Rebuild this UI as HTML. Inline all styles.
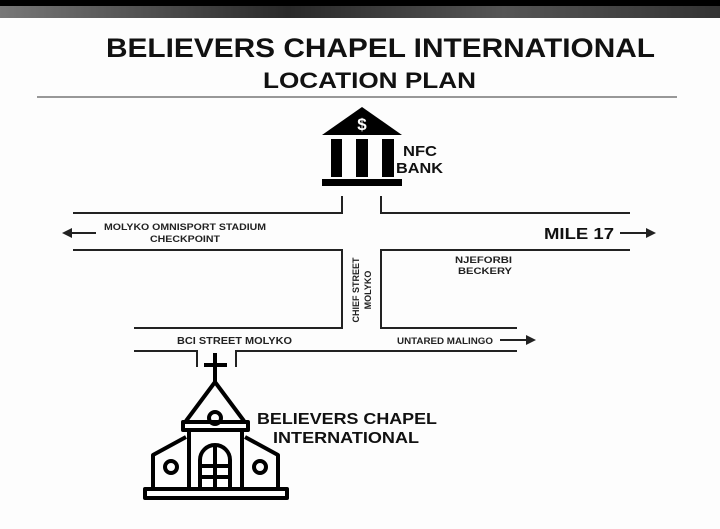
<!DOCTYPE html>
<html><head><style>
body{margin:0;width:720px;height:524px;overflow:hidden;background:#fdfdfd;font-family:"Liberation Sans",sans-serif}
</style></head><body>
<svg width="720" height="524" xmlns="http://www.w3.org/2000/svg" font-family="Liberation Sans, sans-serif" font-weight="bold">
<defs><linearGradient id="g" x1="0" x2="1"><stop offset="0" stop-color="#777"/><stop offset="0.4" stop-color="#2a2a2a"/><stop offset="0.7" stop-color="#555"/><stop offset="1" stop-color="#333"/></linearGradient></defs>
<rect width="720" height="6" fill="#000"/>
<rect y="6" width="720" height="12" fill="url(#g)"/>
<text x="106" y="57" font-size="27" fill="#111" textLength="549" lengthAdjust="spacingAndGlyphs">BELIEVERS CHAPEL INTERNATIONAL</text>
<text x="263" y="88" font-size="22" fill="#111" textLength="213" lengthAdjust="spacingAndGlyphs">LOCATION PLAN</text>
<line x1="37" y1="97" x2="677" y2="97" stroke="#777" stroke-width="1.5"/>
<!-- bank -->
<polygon points="322,135 402,135 362,107" fill="#000"/>
<text x="362" y="130" text-anchor="middle" font-size="17" fill="#fff">$</text>
<rect x="331" y="139" width="11" height="38" fill="#000"/>
<rect x="356" y="139" width="12" height="38" fill="#000"/>
<rect x="382" y="139" width="12" height="38" fill="#000"/>
<rect x="322" y="179" width="80" height="7" fill="#000"/>
<text x="403" y="156" font-size="15" fill="#111" textLength="34" lengthAdjust="spacingAndGlyphs">NFC</text>
<text x="396" y="173" font-size="15" fill="#111" textLength="47" lengthAdjust="spacingAndGlyphs">BANK</text>
<!-- roads -->
<g stroke="#222" stroke-width="2" fill="none">
<polyline points="342,196 342,213 73,213"/>
<polyline points="381,196 381,213 630,213"/>
<polyline points="73,250 342,250 342,328 134,328"/>
<polyline points="630,250 381,250 381,328 517,328"/>
<polyline points="134,351 197,351 197,367"/>
<polyline points="517,351 236,351 236,367"/>
<line x1="96" y1="233" x2="66" y2="233"/>
<line x1="620" y1="233" x2="650" y2="233"/>
<line x1="500" y1="340" x2="530" y2="340"/>
</g>
<polygon points="62,233 72,228 72,238" fill="#222"/>
<polygon points="656,233 646,228 646,238" fill="#222"/>
<polygon points="536,340 526,335 526,345" fill="#222"/>
<g font-size="9" fill="#222">
<text x="104" y="230" textLength="162" lengthAdjust="spacingAndGlyphs">MOLYKO OMNISPORT STADIUM</text>
<text x="150" y="242" textLength="70" lengthAdjust="spacingAndGlyphs">CHECKPOINT</text>
<text x="455" y="263" textLength="57" lengthAdjust="spacingAndGlyphs">NJEFORBI</text>
<text x="458" y="274" textLength="54" lengthAdjust="spacingAndGlyphs">BECKERY</text>
<text x="397" y="344" textLength="96" lengthAdjust="spacingAndGlyphs">UNTARED MALINGO</text>
<text transform="translate(359,290) rotate(-90)" text-anchor="middle">CHIEF STREET</text>
<text transform="translate(371,290) rotate(-90)" text-anchor="middle">MOLYKO</text>
</g>
<text x="177" y="344" font-size="10.5" fill="#222" textLength="115" lengthAdjust="spacingAndGlyphs">BCI STREET MOLYKO</text>
<text x="544" y="239" font-size="16" fill="#111" textLength="70" lengthAdjust="spacingAndGlyphs">MILE 17</text>
<!-- church -->
<g stroke="#000" stroke-width="4" fill="none" stroke-linejoin="round">
<line x1="215" y1="353" x2="215" y2="382"/>
<line x1="204" y1="365" x2="227" y2="365"/>
<polyline points="186,421 215,382 244,421"/>
<circle cx="215" cy="418" r="6"/>
<rect x="183" y="422" width="65" height="8"/>
<line x1="189" y1="430" x2="189" y2="488"/>
<line x1="242" y1="430" x2="242" y2="488"/>
<polyline points="186,437 153,455 153,488"/>
<polyline points="245,437 278,455 278,488"/>
<circle cx="171" cy="467" r="6"/>
<circle cx="260" cy="467" r="6"/>
<path d="M200,488 V460 A15,15 0 0 1 230,460 V488"/>
<line x1="215" y1="447" x2="215" y2="488"/>
<line x1="200" y1="466" x2="230" y2="466"/>
<line x1="200" y1="477" x2="230" y2="477"/>
<rect x="145" y="489" width="142" height="9"/>
</g>
<text x="257" y="424" font-size="16" fill="#111" textLength="180" lengthAdjust="spacingAndGlyphs">BELIEVERS CHAPEL</text>
<text x="273" y="443" font-size="16" fill="#111" textLength="146" lengthAdjust="spacingAndGlyphs">INTERNATIONAL</text>
</svg>
</body></html>
